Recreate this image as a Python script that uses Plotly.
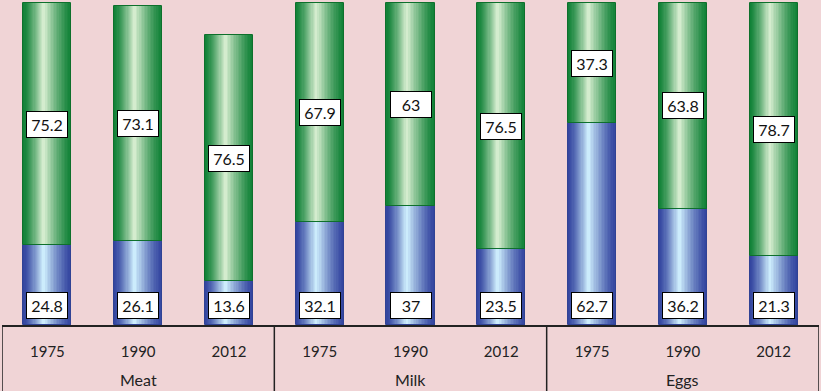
import plotly.graph_objects as go

groups = ["Meat", "Milk", "Eggs"]
years = ["1975", "1990", "2012"]
blue_vals = [24.8, 26.1, 13.6, 32.1, 37, 23.5, 62.7, 36.2, 21.3]
green_vals = [75.2, 73.1, 76.5, 67.9, 63, 76.5, 37.3, 63.8, 78.7]

year_labels = years * len(groups)
xs = list(range(len(year_labels)))
green_base = blue_vals

BAR_W = 0.53
N = 18
CENTER = 0.42  # position of highlight across the bar (0 = left, 1 = right)

def mix(c1, c2, t):
    return "rgb(%d,%d,%d)" % tuple(round(a + (b - a) * t) for a, b in zip(c1, c2))

blue_dark, blue_light = (52, 70, 160), (204, 236, 252)
green_dark, green_light = (18, 130, 56), (212, 236, 206)

fig = go.Figure()

def add_cylinder(vals, base, dark, light, edge):
    for i in range(N):
        w = BAR_W * (1 - i / N)
        t = (i / (N - 1)) ** 1.3
        off = -BAR_W / 2 + (BAR_W - w) * CENTER
        fig.add_trace(go.Bar(
            x=xs, y=vals, base=base, width=w, offset=off,
            marker=dict(color=mix(dark, light, t), line=dict(width=0)),
            showlegend=False, hoverinfo="skip",
        ))
    fig.add_trace(go.Bar(
        x=xs, y=vals, base=base, width=BAR_W, offset=-BAR_W / 2,
        marker=dict(color="rgba(0,0,0,0)", line=dict(width=1, color=edge)),
        showlegend=False, hoverinfo="skip",
    ))

add_cylinder(blue_vals, [0] * len(xs), blue_dark, blue_light, "rgb(48,66,148)")
add_cylinder(green_vals, green_base, green_dark, green_light, "rgb(14,112,44)")

font_lbl = dict(family="Lato, Carlito, sans-serif", size=16, color="#111")
for x, b, g in zip(xs, blue_vals, green_vals):
    fig.add_annotation(x=x, y=0, xref="x", yref="y", text=f"{b:g}", showarrow=False,
                       yanchor="bottom", yshift=6, bgcolor="white", bordercolor="black",
                       borderwidth=1, borderpad=3, width=34, font=font_lbl)
    fig.add_annotation(x=x, y=b + g / 2, xref="x", yref="y", text=f"{g:g}", showarrow=False,
                       yanchor="middle", bgcolor="white", bordercolor="black",
                       borderwidth=1, borderpad=3, width=34, font=font_lbl)

for gi, g in enumerate(groups):
    fig.add_annotation(x=gi * 3 + 1, y=0, xref="x", yref="paper", text=g, showarrow=False,
                       yanchor="middle", yshift=-54,
                       font=dict(family="Lato, Carlito, sans-serif", size=16, color="#222"))

for xb in [-0.5, 2.5, 5.5, 8.5]:
    fig.add_shape(type="line", xref="x", yref="paper", x0=xb, x1=xb, y0=0, y1=-0.5,
                  line=dict(color="#222", width=1.5))

fig.update_layout(
    width=821, height=391,
    margin=dict(l=2, r=2, t=0, b=66),
    paper_bgcolor="#f0d4d6", plot_bgcolor="#f0d4d6",
    barmode="overlay", bargap=0,
    xaxis=dict(range=[-0.5, 8.5], tickvals=xs, ticktext=year_labels,
               showgrid=False, zeroline=False, showline=True, linecolor="#222", linewidth=1.5,
               ticks="outside", ticklen=12, tickcolor="rgba(0,0,0,0)",
               tickfont=dict(family="Lato, Carlito, sans-serif", size=15, color="#222")),
    yaxis=dict(range=[0, 101], visible=False, showgrid=False, zeroline=False),
)

fig.write_html("out.html", config={"displayModeBar": False},
               post_script="document.body.style.margin='0';document.body.style.overflow='hidden';")
